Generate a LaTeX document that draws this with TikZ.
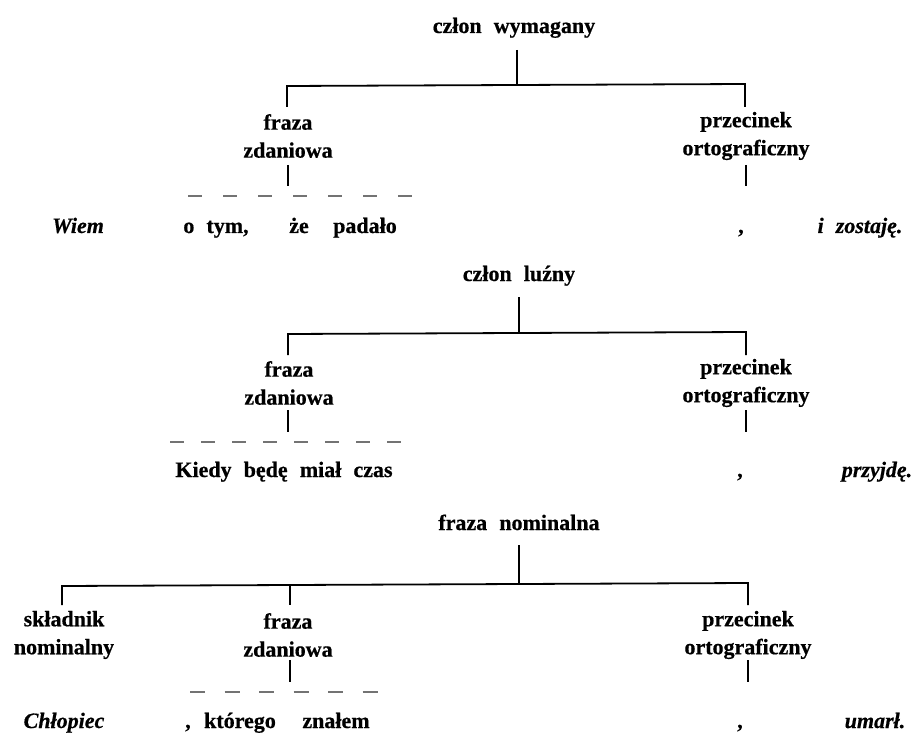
\documentclass[tikz,border=0pt]{standalone}
\usepackage{fontspec}
\setmainfont[WordSpace=2.2, BoldFeatures={FakeBold=0.6}, BoldItalicFeatures={FakeBold=0.6}]{Liberation Serif}
\begin{document}
\begin{tikzpicture}[x=1pt,y=-1pt,
  lbl/.style={font=\fontsize{22}{28}\selectfont\bfseries, align=center, inner sep=0pt, anchor=center},
  wrd/.style={font=\fontsize{22}{26}\selectfont\bfseries, inner sep=0pt, anchor=base},
  iwrd/.style={font=\fontsize{22}{26}\selectfont\bfseries\itshape, inner sep=0pt, anchor=base},
  br/.style={line width=1.8pt},
  dsh/.style={line width=1.8pt, black!55}]
\useasboundingbox (0,0) rectangle (916,733);
% ---------- tree 1
\node[wrd] (r1) at (514,33) {człon wymagany};
\coordinate (r1s) at (517,50);
\coordinate (r1j) at (517,85);
\coordinate (r1l) at (287,86);
\coordinate (r1r) at (745,84);
\node[lbl] (f1) at (288,136) {fraza\\zdaniowa};
\node[lbl] (p1) at (746,136) {przecinek\\ortograficzny};
\draw[br] (r1s) -- (r1j);
\draw[br] (287,107) -- (r1l) -- (r1r) -- (745,107);
\draw[br] (288,165) -- (288,186);
\draw[br] (746,165) -- (746,186);
\draw[dsh, dash pattern=on 14pt off 21pt] (188,196) -- (412,196);
\node[iwrd] (w1) at (78,233) {Wiem};
\node[wrd] (w2) at (216,233) {o tym,};
\node[wrd] (w3) at (299,233) {że};
\node[wrd] (w4) at (365,233) {padało};
\node[wrd] (w5) at (741,233) {,};
\node[iwrd] (w6) at (860,233) {i zostaję.};
% ---------- tree 2
\node[wrd] (r2) at (519,281) {człon luźny};
\coordinate (r2s) at (519,297);
\coordinate (r2j) at (519,333);
\coordinate (r2l) at (288,334);
\coordinate (r2r) at (746,332);
\node[lbl] (f2) at (289,383) {fraza\\zdaniowa};
\node[lbl] (p2) at (746,383) {przecinek\\ortograficzny};
\draw[br] (r2s) -- (r2j);
\draw[br] (288,355) -- (r2l) -- (r2r) -- (746,355);
\draw[br] (288,410) -- (288,432);
\draw[br] (746,410) -- (746,432);
\draw[dsh, dash pattern=on 14pt off 17pt] (170,442) -- (401,442);
\node[wrd] (k1) at (284,477) {Kiedy będę miał czas};
\node[wrd] (k2) at (740,477) {,};
\node[iwrd] (k3) at (877,477) {przyjdę.};
% ---------- tree 3
\node[wrd] (r3) at (519,530) {fraza nominalna};
\coordinate (r3s) at (519,545);
\coordinate (r3j) at (519,584);
\coordinate (r3l) at (62,586);
\coordinate (r3m) at (290,585);
\coordinate (r3r) at (748,583);
\node[lbl] (s3) at (64,635) {składnik\\nominalny};
\node[lbl] (f3) at (288,635) {fraza\\zdaniowa};
\node[lbl] (p3) at (748,635) {przecinek\\ortograficzny};
\draw[br] (r3s) -- (r3j);
\draw[br] (62,605) -- (r3l) -- (r3r) -- (748,605);
\draw[br] (r3m) -- (290,605);
\draw[br] (290,660) -- (290,682);
\draw[br] (748,660) -- (748,682);
\draw[dsh, dash pattern=on 15pt off 19.5pt] (190,692) -- (377.5,692);
\node[iwrd] (c1) at (64,728) {Chłopiec};
\node[wrd] (c2a) at (188,728) {,};
\node[wrd] (c2b) at (240,728) {którego};
\node[wrd] (c2c) at (336,728) {znałem};
\node[wrd] (c3) at (740,728) {,};
\node[iwrd] (c4) at (875,728) {umarł.};
\end{tikzpicture}
\end{document}
